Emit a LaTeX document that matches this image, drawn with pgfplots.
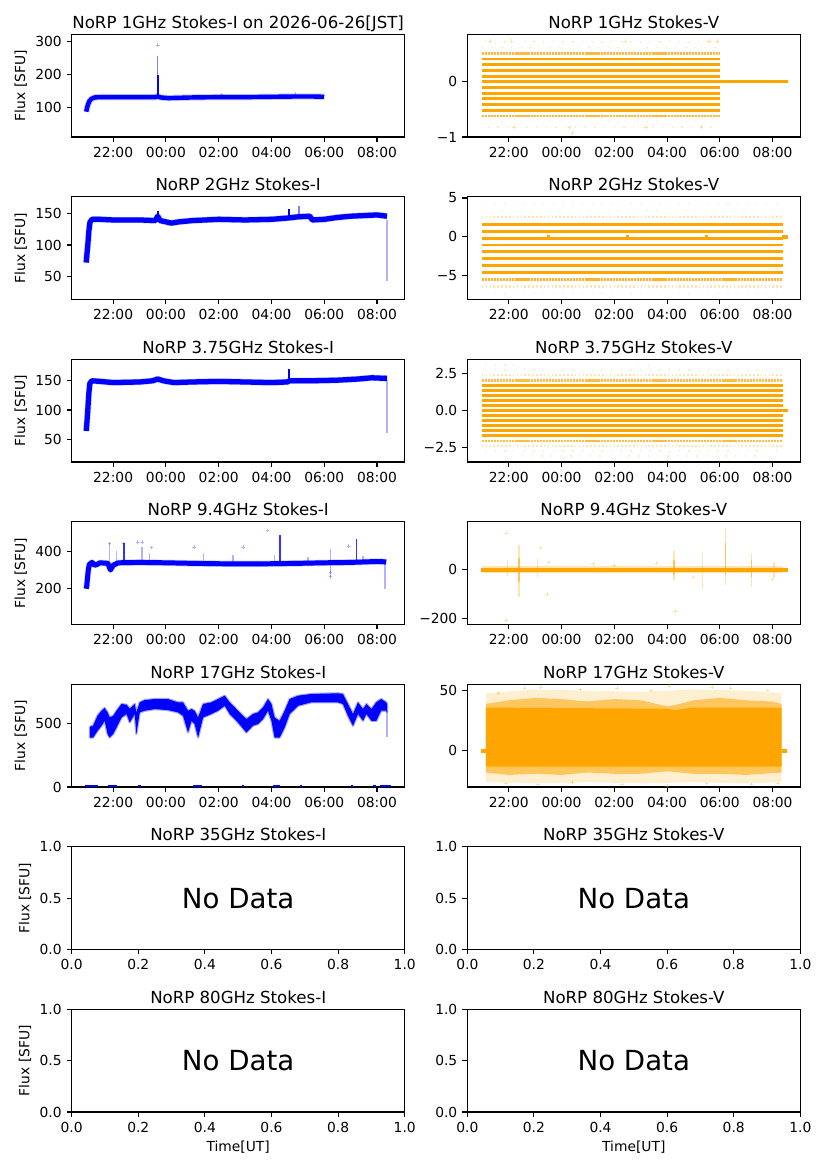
\documentclass[border=0pt]{standalone}
\usepackage{fontspec}
\setmainfont{DejaVu Sans}
\usepackage{pgfplots}
\pgfplotsset{compat=1.18}
\definecolor{mblue}{RGB}{0,0,255}
\definecolor{morange}{RGB}{255,165,0}
\pgfplotsset{
  panel/.style={
    scale only axis, width=3.33in, height=1.027in, anchor=south west,
    line width=0.8pt,
    tick align=outside, xtick pos=bottom, ytick pos=left,
    major tick length=3.5pt,
    major tick style={line width=0.8pt, black},
    tick label style={font=\fontsize{10}{12}\selectfont},
    /pgf/number format/assume math mode=true,
    title style={font=\fontsize{12}{14}\selectfont, at={(0.5,1)}, anchor=base, yshift=-1.6pt, inner sep=0pt},
    ylabel style={font=\fontsize{10}{12}\selectfont, at={(axis description cs:-0.153,0.5)}, anchor=center},
    xlabel style={font=\fontsize{10}{12}\selectfont, at={(axis description cs:0.5,-0.34)}, anchor=center},
    unbounded coords=jump, scaled ticks=false,
  },
  timeax/.style={panel, xmin=20.43, xmax=33.05, xtick={22,24,26,28,30,32},
    xticklabels={22:00,00:00,02:00,04:00,06:00,08:00}},
  emptyax/.style={panel, xmin=0, xmax=1, ymin=0, ymax=1,
    xtick={0,0.2,0.4,0.6,0.8,1}, xticklabels={0.0,0.2,0.4,0.6,0.8,1.0},
    ytick={0,0.5,1}, yticklabels={0.0,0.5,1.0}},
  iband/.style={mblue, line width=3.4pt, line join=round},
  ifuzz/.style={mblue, opacity=0.2, line width=4.6pt, line join=round},
  ispike/.style={mblue, line width=1pt, opacity=0.5},
  ipts/.style={only marks, mark=+, mark size=1.3pt, mblue, opacity=0.3, mark options={line width=0.4pt}},
  vsolid/.style={morange, line width=2.1pt},
  vsemi/.style={morange, line width=1.9pt, opacity=0.75, dash pattern=on 1.6pt off 0.6pt},
  vlight/.style={morange, line width=1.6pt, opacity=0.3, dash pattern=on 1.2pt off 1.6pt},
  vsparse/.style={morange, line width=1.2pt, opacity=0.22, dash pattern=on 1pt off 6pt},
  vpts/.style={only marks, mark=+, mark size=1.3pt, morange, opacity=0.35, mark options={line width=0.4pt}},
}
\begin{document}
\begin{tikzpicture}
\path[use as bounding box] (0,0) rectangle (8.27in,11.69in);

% ---------------- Row 1: 1 GHz ----------------
\begin{axis}[timeax, at={(0.717in,10.32in)}, ymin=11.5, ymax=322, ytick={100,200,300},
  title={NoRP 1GHz Stokes-I on 2026-06-26[JST]}, ylabel={Flux [SFU]}]
\addplot[ifuzz] coordinates {(20.98,88)(21.0,95)(21.04,108)(21.1,120)(21.18,127)(21.3,131)(21.5,132)(22,132)(23,132)(23.6,132)(23.69,134)(23.8,131)(24.1,129)(24.5,130)(25,131)(26,132)(27,132)(28,133)(29,134)(29.5,134)(30.0,133)};
\addplot[iband, line width=3.2pt] coordinates {(20.98,88)(21.0,95)(21.04,108)(21.1,120)(21.18,127)(21.3,131)(21.5,132)(22,132)(23,132)(23.6,132)(23.69,134)(23.8,131)(24.1,129)(24.5,130)(25,131)(26,132)(27,132)(28,133)(29,134)(29.5,134)(30.0,133)};
\addplot[mblue, line width=1.3pt] coordinates {(23.69,132)(23.69,200)};
\addplot[ispike] coordinates {(23.69,200)(23.69,255)};
\addplot[ipts] coordinates {(23.69,290)(26.1,140)(28.9,142)};
\end{axis}

\begin{axis}[timeax, at={(4.673in,10.32in)}, ymin=-1.0, ymax=0.86, ytick={-1,0}, yticklabels={−1,0},
  title={NoRP 1GHz Stokes-V}]
\addplot[vsparse] coordinates {(21.1,0.721)(30,0.721)(30,nan)(20.98,0.618)(30,0.618)(30,nan)(20.98,-0.721)(30,-0.721)(30,nan)(21.2,-0.824)(29.8,-0.824)};
\addplot[vlight] coordinates {(20.98,0.515)(30,0.515)(30,nan)(20.98,-0.618)(30,-0.618)};
\addplot[vsemi] coordinates {(20.98,0.515)(30,0.515)(30,nan)(20.98,-0.618)(30,-0.618)};
\addplot[vsolid] coordinates {(20.98,0.412)(30,0.412)(30,nan)(20.98,0.309)(30,0.309)(30,nan)(20.98,0.206)(30,0.206)(30,nan)(20.98,0.103)(30,0.103)(30,nan)(20.98,0)(32.57,0)(32.57,nan)(20.98,-0.103)(30,-0.103)(30,nan)(20.98,-0.206)(30,-0.206)(30,nan)(20.98,-0.309)(30,-0.309)(30,nan)(20.98,-0.412)(30,-0.412)(30,nan)(20.98,-0.515)(30,-0.515)};
\addplot[vpts] coordinates {(21.3,0.74)(22.1,0.74)(26.4,0.74)(29.6,0.74)(29.9,0.74)(22.2,-0.824)(24.41,-0.927)(24.3,-0.824)(27.2,-0.824)(29.3,-0.824)};
\end{axis}

% ---------------- Row 2: 2 GHz ----------------
\begin{axis}[timeax, at={(0.717in,8.695in)}, ymin=13, ymax=177, ytick={50,100,150},
  title={NoRP 2GHz Stokes-I}, ylabel={Flux [SFU]}]
\addplot[ispike, opacity=0.3] coordinates {(32.38,140)(32.38,42)};
\addplot[ifuzz] coordinates {(20.98,72)(21.0,82)(21.04,100)(21.08,122)(21.12,136)(21.2,141)(21.5,141)(22,140)(23,140)(23.6,139)(23.69,146)(23.78,139)(24.0,137)(24.2,135)(24.5,137)(25,139)(26,141)(27,140)(28,141)(28.6,143)(29.0,145)(29.45,146)(29.55,140)(30,141)(30.5,144)(31,146)(32,148)(32.38,146)};
\addplot[iband, line width=3.8pt] coordinates {(20.98,72)(21.0,82)(21.04,100)(21.08,122)(21.12,136)(21.2,141)(21.5,141)(22,140)(23,140)(23.6,139)(23.69,146)(23.78,139)(24.0,137)(24.2,135)(24.5,137)(25,139)(26,141)(27,140)(28,141)(28.6,143)(29.0,145)(29.45,146)(29.55,140)(30,141)(30.5,144)(31,146)(32,148)(32.38,146)};
\addplot[mblue, line width=1.3pt] coordinates {(23.69,140)(23.69,155)(23.69,nan)(28.65,142)(28.65,158)};
\addplot[ispike] coordinates {(29.05,145)(29.05,162)};
\end{axis}

\begin{axis}[timeax, at={(4.673in,8.695in)}, ymin=-8.07, ymax=5.15, ytick={-5,0,5}, yticklabels={−5,0,5},
  title={NoRP 2GHz Stokes-V}]
\addplot[vsparse] coordinates {(21.1,4.29)(32.3,4.29)(32.3,nan)(20.98,3.40)(32.38,3.40)(32.38,nan)(21.1,-7.29)(32.3,-7.29)};
\addplot[vlight] coordinates {(20.98,2.51)(32.38,2.51)(32.38,nan)(20.98,-6.40)(32.38,-6.40)};
\addplot[vsemi, opacity=0.85] coordinates {(20.98,-5.51)(32.38,-5.51)};
\addplot[vsolid] coordinates {(20.98,1.62)(32.38,1.62)(32.38,nan)(20.98,0.73)(32.38,0.73)(32.38,nan)(20.98,-0.17)(32.38,-0.17)(32.38,nan)(20.98,-1.06)(32.38,-1.06)(32.38,nan)(20.98,-1.95)(32.38,-1.95)(32.38,nan)(20.98,-2.84)(32.38,-2.84)(32.38,nan)(20.98,-3.73)(32.38,-3.73)(32.38,nan)(20.98,-4.62)(32.38,-4.62)};
\addplot[morange, line width=2.5pt] coordinates {(23.45,0)(23.55,0)(23.55,nan)(26.45,0)(26.55,0)(26.55,nan)(29.45,0)(29.55,0)(29.55,nan)(32.34,0)(32.57,0)};
\end{axis}

% ---------------- Row 3: 3.75 GHz ----------------
\begin{axis}[timeax, at={(0.717in,7.07in)}, ymin=13, ymax=185, ytick={50,100,150},
  title={NoRP 3.75GHz Stokes-I}, ylabel={Flux [SFU]}]
\addplot[ispike, opacity=0.3] coordinates {(32.38,150)(32.38,62)};
\addplot[ifuzz] coordinates {(20.98,65)(21.0,75)(21.04,100)(21.08,128)(21.12,145)(21.2,149)(21.5,148)(22,146)(23,147)(23.5,149)(23.69,152)(23.9,149)(24.3,146)(25,147)(26,148)(27,147)(28,146)(28.6,147)(28.7,149)(29.5,149)(30.5,150)(31.3,152)(31.8,154)(32.38,153)};
\addplot[iband, line width=3.8pt] coordinates {(20.98,65)(21.0,75)(21.04,100)(21.08,128)(21.12,145)(21.2,149)(21.5,148)(22,146)(23,147)(23.5,149)(23.69,152)(23.9,149)(24.3,146)(25,147)(26,148)(27,147)(28,146)(28.6,147)(28.7,149)(29.5,149)(30.5,150)(31.3,152)(31.8,154)(32.38,153)};
\addplot[mblue, line width=1.3pt] coordinates {(28.65,147)(28.65,168)};
\end{axis}

\begin{axis}[timeax, at={(4.673in,7.07in)}, ymin=-3.46, ymax=3.45, ytick={-2.5,0,2.5}, yticklabels={−2.5,0.0,2.5},
  title={NoRP 3.75GHz Stokes-V}]
\addplot[vsparse] coordinates {(21.1,3.06)(22.3,3.06)(22.3,nan)(26.9,3.06)(27.6,3.06)(27.6,nan)(21.1,2.72)(32.3,2.72)(32.3,nan)(21.1,-2.72)(32.3,-2.72)(32.3,nan)(22.5,-3.06)(31.5,-3.06)};
\addplot[vlight] coordinates {(20.98,2.38)(32.38,2.38)(32.38,nan)(20.98,-2.38)(32.38,-2.38)};
\addplot[vsemi] coordinates {(20.98,2.04)(32.38,2.04)(32.38,nan)(20.98,-2.04)(32.38,-2.04)};
\addplot[vsolid] coordinates {(20.98,1.70)(32.38,1.70)(32.38,nan)(20.98,1.36)(32.38,1.36)(32.38,nan)(20.98,1.02)(32.38,1.02)(32.38,nan)(20.98,0.68)(32.38,0.68)(32.38,nan)(20.98,0.34)(32.38,0.34)(32.38,nan)(20.98,0)(32.57,0)(32.57,nan)(20.98,-0.34)(32.38,-0.34)(32.38,nan)(20.98,-0.68)(32.38,-0.68)(32.38,nan)(20.98,-1.02)(32.38,-1.02)(32.38,nan)(20.98,-1.36)(32.38,-1.36)(32.38,nan)(20.98,-1.70)(32.38,-1.70)};
\end{axis}

% ---------------- Row 4: 9.4 GHz ----------------
\begin{axis}[timeax, at={(0.717in,5.445in)}, ymin=10, ymax=556, ytick={200,400},
  title={NoRP 9.4GHz Stokes-I}, ylabel={Flux [SFU]}]
\addplot[ispike, opacity=0.3] coordinates {(21.87,335)(21.87,441)(21.87,nan)(22.13,335)(22.13,400)(22.13,nan)(23.10,335)(23.10,420)(23.10,nan)(23.39,335)(23.39,391)(23.39,nan)(25.42,335)(25.42,391)(25.42,nan)(26.55,335)(26.55,380)(26.55,nan)(28.12,335)(28.12,380)(28.12,nan)(29.39,335)(29.39,370)(29.39,nan)(30.24,264)(30.24,412)(30.24,nan)(31.47,340)(31.47,375)(31.47,nan)(32.3,200)(32.3,345)};
\addplot[ifuzz] coordinates {(20.98,200)(21.0,215)(21.03,260)(21.06,300)(21.1,330)(21.2,340)(21.3,325)(21.4,330)(21.5,338)(21.8,335)(21.9,300)(22.0,325)(22.2,338)(23,340)(24,338)(25,335)(26,333)(27,332)(28,333)(29,335)(30,338)(31,340)(32,345)(32.35,343)};
\addplot[iband, line width=3.6pt] coordinates {(20.98,200)(21.0,215)(21.03,260)(21.06,300)(21.1,330)(21.2,340)(21.3,325)(21.4,330)(21.5,338)(21.8,335)(21.9,300)(22.0,325)(22.2,338)(23,340)(24,338)(25,335)(26,333)(27,332)(28,333)(29,335)(30,338)(31,340)(32,345)(32.35,343)};
\addplot[mblue, line width=1.3pt, opacity=0.8] coordinates {(22.40,335)(22.40,441)(22.40,nan)(28.31,335)(28.31,488)(28.31,nan)(31.22,340)(31.22,462)};
\addplot[ipts] coordinates {(21.87,441)(22.92,448)(23.10,448)(23.45,420)(25.07,423)(26.92,423)(27.85,510)(30.93,427)(30.24,264)(30.24,290)(22.4,441)};
\end{axis}

\begin{axis}[timeax, at={(4.673in,5.445in)}, ymin=-223, ymax=196, ytick={-200,0}, yticklabels={−200,0},
  title={NoRP 9.4GHz Stokes-V}]
\addplot[morange, line width=1pt, opacity=0.3] coordinates {(21.95,-25)(21.95,40)(21.95,nan)(22.39,-110)(22.39,100)(22.39,nan)(23.09,-30)(23.09,45)(23.09,nan)(28.26,-40)(28.26,75)(28.26,nan)(29.34,-80)(29.34,70)(29.34,nan)(30.22,-60)(30.22,170)(30.22,nan)(31.2,-70)(31.2,70)(31.2,nan)(32.05,-35)(32.05,30)};
\addplot[morange, line width=1.2pt, opacity=0.5] coordinates {(22.39,-50)(22.39,50)(22.39,nan)(30.22,-20)(30.22,110)(30.22,nan)(31.2,-30)(31.2,40)(31.2,nan)(28.26,-20)(28.26,40)};
\addplot[morange, line width=5pt, opacity=0.3] coordinates {(20.98,0)(32.38,0)};
\addplot[morange, line width=3.2pt] coordinates {(20.96,0)(32.57,0)};
\addplot[vpts] coordinates {(21.9,150)(21.9,-205)(23.46,-98)(28.3,-168)(23.2,90)(23.5,30)(25.2,25)(26.0,20)(27.6,28)(29.0,-30)(32.0,-40)};
\end{axis}

% ---------------- Row 5: 17 GHz ----------------
\begin{axis}[timeax, at={(0.717in,3.82in)}, ymin=0, ymax=808, ytick={0,500},
  title={NoRP 17GHz Stokes-I}, ylabel={Flux [SFU]}]
\addplot[fill=mblue, draw=mblue, draw opacity=0.35, line width=1.6pt, line join=round] coordinates {
(21.12,474)(21.24,482)(21.41,561)(21.56,600)(21.68,621)(21.79,587)(21.87,547)(22.0,560)(22.13,600)(22.32,653)(22.51,647)(22.63,616)(22.82,653)(22.88,587)(23.01,666)(23.20,684)(23.58,692)(24.08,692)(24.46,666)(24.65,666)(24.84,600)(24.97,613)(25.09,600)(25.22,547)(25.41,653)(25.72,666)(25.98,692)(26.23,718)(26.42,666)(26.73,600)(27.05,534)(27.30,574)(27.49,587)(27.68,626)(27.87,692)(28.00,653)(28.12,547)(28.31,520)(28.50,600)(28.69,692)(29.01,718)(29.51,732)(30.52,737)(30.71,732)(30.90,653)(31.09,574)(31.28,666)(31.47,613)(31.60,653)(31.79,613)(31.97,666)(32.16,692)(32.35,666)(32.38,650)
(32.38,590)(32.35,600)(32.16,600)(31.97,520)(31.79,521)(31.60,574)(31.47,521)(31.28,574)(31.09,481)(30.90,560)(30.71,653)(30.52,666)(29.51,666)(29.01,639)(28.69,574)(28.50,468)(28.31,389)(28.12,389)(28.00,521)(27.87,600)(27.68,534)(27.49,495)(27.30,482)(27.05,429)(26.73,508)(26.42,574)(26.23,639)(25.98,600)(25.72,574)(25.41,547)(25.22,389)(25.09,495)(24.97,521)(24.84,429)(24.65,560)(24.46,587)(24.08,605)(23.58,613)(23.20,600)(23.01,587)(22.88,416)(22.82,574)(22.63,508)(22.51,574)(22.32,547)(22.13,468)(22.0,416)(21.87,389)(21.79,416)(21.68,521)(21.56,481)(21.41,442)(21.24,389)(21.12,389)(21.12,474)};
\addplot[ispike, opacity=0.3] coordinates {(32.38,600)(32.38,395)};
\addplot[mblue, line width=3pt] coordinates {(20.93,0)(21.43,0)(21.43,nan)(21.81,0)(22.13,0)(22.13,nan)(22.95,0)(23.07,0)(23.07,nan)(25.03,0)(25.35,0)(25.35,nan)(26.9,0)(26.97,0)(26.97,nan)(28.06,0)(28.31,0)(28.31,nan)(29.1,0)(29.15,0)(29.15,nan)(31.0,0)(31.09,0)(31.09,nan)(31.85,0)(31.97,0)(31.97,nan)(32.1,0)(32.54,0)};
\end{axis}

\begin{axis}[timeax, at={(4.673in,3.82in)}, ymin=-30, ymax=55.3, ytick={0,50},
  title={NoRP 17GHz Stokes-V}]
\addplot[fill=morange, fill opacity=0.18, draw=none] coordinates {(21.13,-26)(21.13,48)(23,51)(25,50)(27,49)(29,51)(31,50)(32.34,48)(32.34,-26)(31,-27)(29,-26)(27,-27)(25,-26)(23,-27)(21.13,-26)};
\addplot[fill=morange, fill opacity=0.55, draw=none] coordinates {(21.13,-18)(21.13,39)(22,42)(23,44)(24,43)(25,41)(26,43)(27,42)(28,37)(28.3,38)(29,42)(30,44)(31,42)(32,41)(32.34,39)(32.34,-18)(31,-20)(30,-19)(29,-19)(28,-17)(27,-19)(26,-19)(25,-18)(24,-20)(23,-19)(22,-20)(21.13,-18)};
\addplot[fill=morange, draw=none] coordinates {(21.13,-13)(21.13,36)(28,35)(28.3,34)(29,36)(32.34,36)(32.34,-13)(21.13,-13)};
\addplot[morange, line width=2.5pt] coordinates {(20.96,0)(21.13,0)(21.13,nan)(32.34,0)(32.56,0)};
\addplot[vpts] coordinates {(21.6,48)(22.6,52)(23.2,53)(24.7,51)(26.1,52)(27.4,50)(28.1,54)(29.7,53)(30.4,52)(31.8,50)(21.9,-27)(23.1,-28)(24.4,-26)(26.3,-28)(28.0,-29)(29.5,-27)(31.2,-28)(32.2,-27)};
\end{axis}

% ---------------- Row 6: 35 GHz ----------------
\begin{axis}[emptyax, at={(0.717in,2.195in)}, title={NoRP 35GHz Stokes-I}, ylabel={Flux [SFU]},
  ylabel style={at={(axis description cs:-0.14,0.5)}}]
\node[font=\fontsize{20}{24}\selectfont] at (axis cs:0.5,0.5) {No Data};
\end{axis}
\begin{axis}[emptyax, at={(4.673in,2.195in)}, title={NoRP 35GHz Stokes-V}]
\node[font=\fontsize{20}{24}\selectfont] at (axis cs:0.5,0.5) {No Data};
\end{axis}

% ---------------- Row 7: 80 GHz ----------------
\begin{axis}[emptyax, at={(0.717in,0.57in)}, title={NoRP 80GHz Stokes-I}, ylabel={Flux [SFU]},
  ylabel style={at={(axis description cs:-0.14,0.5)}}, xlabel={Time[UT]}]
\node[font=\fontsize{20}{24}\selectfont] at (axis cs:0.5,0.5) {No Data};
\end{axis}
\begin{axis}[emptyax, at={(4.673in,0.57in)}, title={NoRP 80GHz Stokes-V}, xlabel={Time[UT]}]
\node[font=\fontsize{20}{24}\selectfont] at (axis cs:0.5,0.5) {No Data};
\end{axis}
\end{tikzpicture}
\end{document}
